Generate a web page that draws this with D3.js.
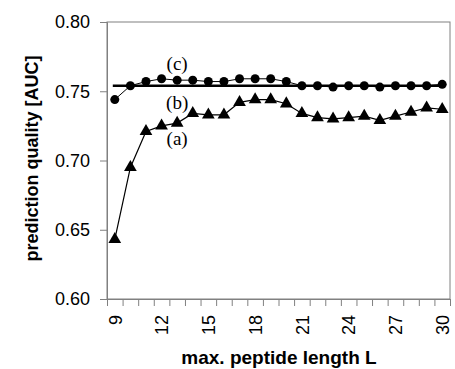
<!DOCTYPE html>
<html>
<head>
<meta charset="utf-8">
<script src="https://cdn.jsdelivr.net/npm/d3@7"></script>
<style>
  body { margin: 0; background: #fff; }
  svg { display: block; }
</style>
</head>
<body>
<div id="chart"></div>
<script>
// data
var lengths = [9, 10, 11, 12, 13, 14, 15, 16, 17, 18, 19, 20, 21, 22, 23, 24, 25, 26, 27, 28, 29, 30]
var aucA = [0.643, 0.695, 0.721, 0.725, 0.727, 0.734, 0.733, 0.733, 0.742, 0.744, 0.744, 0.741, 0.734, 0.731, 0.730, 0.731, 0.732, 0.729, 0.732, 0.735, 0.738, 0.737]
var aucC = [0.744, 0.754, 0.757, 0.759, 0.758, 0.758, 0.757, 0.757, 0.759, 0.759, 0.759, 0.757, 0.754, 0.754, 0.753, 0.754, 0.754, 0.753, 0.754, 0.754, 0.754, 0.755]
var aucB = 0.754
var yTicks = [0.60, 0.65, 0.70, 0.75, 0.80]
var xLabels = [9, 12, 15, 18, 21, 24, 27, 30]
var seriesNames = ["(c)", "(b)", "(a)"]
var labelAt = [0.7704, 0.7422, 0.7162]

var width = 455,
    height = 369,
    margin = {top: 22, right: 5, bottom: 70, left: 107}

var svg = d3.select("#chart")
  .append("svg")
    .attr("width", width)
    .attr("height", height)

var g = svg.append("g")
    .attr("transform", "translate(" + margin.left + "," + margin.top + ")")

var w = width - margin.left - margin.right,
    h = height - margin.top - margin.bottom

// category style axis: each length sits in the middle of its slot
var x = d3.scaleLinear().domain([8.5, 30.5]).range([0, w])
var y = d3.scaleLinear().domain([0.60, 0.80]).range([h, 0])

// frame
g.append("rect")
    .attr("width", w)
    .attr("height", h)
    .attr("fill", "none")
    .attr("stroke", "#808080")
    .attr("stroke-width", 1)

// y axis
var yAxis = g.append("g")
    .call(d3.axisLeft(y).tickValues(yTicks).tickFormat(d3.format(".2f")).tickSize(7).tickPadding(10))
yAxis.select(".domain").attr("stroke", "#808080")
yAxis.selectAll(".tick line").attr("stroke", "#808080")
yAxis.selectAll("text")
    .style("font-family", "Liberation Sans, Arial, sans-serif")
    .style("font-size", "18px")
    .attr("fill", "#000")

// x axis: ticks between categories
var boundaries = d3.range(8.5, 31, 1)
var xAxis = g.append("g")
    .attr("transform", "translate(0," + h + ")")
    .call(d3.axisBottom(x).tickValues(boundaries).tickFormat("").tickSize(7))
xAxis.select(".domain").attr("stroke", "#808080")
xAxis.selectAll(".tick line").attr("stroke", "#808080")

var xLab = g.append("g")
    .attr("transform", "translate(0," + h + ")")
    .call(d3.axisBottom(x).tickValues(xLabels).tickSize(0))
xLab.select(".domain").remove()
xLab.selectAll("text")
    .style("font-family", "Liberation Sans, Arial, sans-serif")
    .style("font-size", "18px")
    .attr("fill", "#000")
    .attr("transform", "rotate(-90)")
    .attr("text-anchor", "end")
    .attr("x", -16)
    .attr("y", 0)
    .attr("dy", "0.35em")

// axis titles
svg.append("text")
    .attr("transform", "translate(32," + (margin.top + h / 2 - 2) + ") rotate(-90)")
    .attr("text-anchor", "middle")
    .attr("dy", "0.35em")
    .style("font-family", "Liberation Sans, Arial, sans-serif")
    .style("font-size", "18px")
    .style("font-weight", "bold")
    .text("prediction quality [AUC]")

svg.append("text")
    .attr("x", 279)
    .attr("y", 364)
    .attr("text-anchor", "middle")
    .style("font-family", "Liberation Sans, Arial, sans-serif")
    .style("font-size", "19px")
    .style("font-weight", "bold")
    .text("max. peptide length L")

// (b) constant line
g.append("line")
    .attr("x1", x(lengths[0]) - 2)
    .attr("x2", x(lengths[lengths.length - 1]))
    .attr("y1", y(aucB))
    .attr("y2", y(aucB))
    .attr("stroke", "#000")
    .attr("stroke-width", 2.5)

var line = d3.line()
  .x((d, i) => x(lengths[i]))
  .y(d => y(d))

// (c) circles
g.append("path")
    .datum(aucC)
    .attr("d", line)
    .attr("fill", "none")
    .attr("stroke", "#000")
    .attr("stroke-width", 1)

g.selectAll(".dotC")
  .data(aucC)
  .enter()
  .append("circle")
    .attr("class", "dotC")
    .attr("cx", (d, i) => x(lengths[i]))
    .attr("cy", d => y(d))
    .attr("r", 4.5)
    .attr("fill", "#000")

// (a) triangles
g.append("path")
    .datum(aucA)
    .attr("d", line)
    .attr("fill", "none")
    .attr("stroke", "#000")
    .attr("stroke-width", 1.2)

var tri = d3.symbol().type(d3.symbolTriangle).size(70)
g.selectAll(".dotA")
  .data(aucA)
  .enter()
  .append("path")
    .attr("class", "dotA")
    .attr("d", tri)
    .attr("transform", (d, i) => "translate(" + x(lengths[i]) + "," + y(d) + ")")
    .attr("fill", "#000")

// series labels
g.selectAll(".lab")
  .data(seriesNames)
  .enter()
  .append("text")
    .attr("class", "lab")
    .attr("x", x(13))
    .attr("y", (d, i) => y(labelAt[i]))
    .attr("text-anchor", "middle")
    .attr("dy", "0.35em")
    .style("font-family", "Liberation Serif, Times New Roman, serif")
    .style("font-size", "19px")
    .text(d => d)
</script>
</body>
</html>
